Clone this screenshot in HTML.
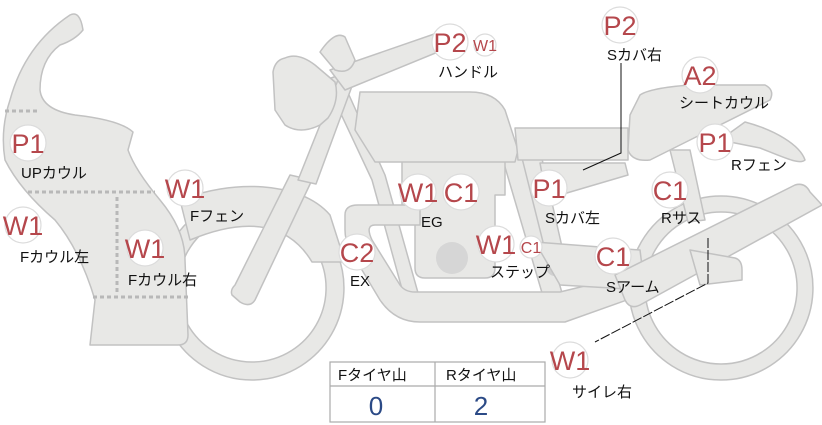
<!DOCTYPE html>
<html><head><meta charset="utf-8"><style>
html,body{margin:0;padding:0;background:#fff;width:822px;height:425px;overflow:hidden}
svg{display:block}
.s{fill:#e8e8e6;stroke:#c2c2c2;stroke-width:1.5;stroke-linejoin:round}
.b circle{fill:#fff;stroke:#dcdcdc;stroke-width:1.2}
.b text{fill:#b5474c;font-family:"Liberation Sans",sans-serif;font-size:27px;text-anchor:middle}
.l{font-family:"Liberation Sans","Noto Sans CJK JP",sans-serif;font-size:15px;fill:#111}
</style></head><body>
<svg width="822" height="425" viewBox="0 0 822 425" xmlns="http://www.w3.org/2000/svg">
<!-- wheels -->
<path class="s" fill-rule="evenodd" d="M252,196 a92,92 0 1,1 -0.1,0 Z M252,214 a74,74 0 1,0 0.1,0 Z"/>
<path class="s" fill-rule="evenodd" d="M721,196 a92,92 0 1,1 -0.1,0 Z M721,212 a76,76 0 1,0 0.1,0 Z"/>
<!-- front fender -->
<path class="s" d="M180,200 C230,180 300,180 330,215 L345,262 L312,262 C290,225 250,215 190,240 Z"/>
<!-- rear fender -->
<path class="s" d="M745,122 C775,130 800,145 805,160 C800,165 785,158 760,148 L720,140 Z"/>
<!-- frame lines -->
<path class="s" d="M325,80 L340,75 L385,175 L420,300 L405,300 L372,180 Z"/>
<path class="s" d="M500,150 L520,150 L570,320 L550,320 Z"/>
<path class="s" d="M520,150 L540,150 L565,260 L548,262 Z"/>
<path class="s" d="M670,150 L690,150 L705,220 L688,222 Z"/>
<!-- engine -->
<path class="s" d="M402,160 L505,160 L505,195 L495,195 L495,268 Q495,278 485,278 L425,278 Q415,278 415,268 L415,210 L402,210 Z"/>
<circle cx="452" cy="258" r="16" fill="#d6d6d6"/>
<circle cx="555" cy="267" r="9" fill="#d0d0d0"/>
<!-- exhaust -->
<path class="s" d="M345,215 Q345,205 358,205 L420,205 L420,225 L375,225 Q365,225 372,240 L400,285 Q405,292 415,292 L560,292 L650,270 L655,290 L565,322 L420,322 Q395,322 380,300 L350,250 Q345,240 345,230 Z"/>
<!-- step bar -->
<path class="s" d="M535,242 L640,250 L645,290 L560,285 Z"/>
<!-- swingarm -->
<path class="s" d="M615,275 L795,185 Q805,182 810,192 L822,205 L640,305 Q630,310 625,300 Z"/>
<path class="s" d="M690,250 L735,258 Q742,260 742,270 L742,280 L700,285 Z"/>
<!-- fork -->
<path class="s" d="M290,175 L312,180 L255,300 Q250,308 240,302 L232,295 Q230,290 235,285 Z"/>
<path class="s" d="M298,180 L340,75 L355,78 L316,184 Z"/>
<!-- handlebar -->
<path class="s" d="M330,70 L440,32 L452,32 L455,45 L345,90 Z"/>
<!-- headlight -->
<path class="s" d="M285,58 Q298,52 315,65 L335,82 Q340,100 328,118 L320,125 Q300,135 285,125 L275,110 L273,72 Q275,60 285,58 Z"/>
<path class="s" d="M320,52 Q335,30 345,37 L355,60 Q350,75 335,70 Z"/>
<!-- tank -->
<path class="s" d="M360,92 L470,92 Q495,92 505,110 L518,150 L515,162 L375,162 L355,130 Z"/>
<!-- seat -->
<path class="s" d="M515,128 L628,128 L628,160 L518,160 Z"/>
<path class="s" d="M540,163 L625,163 L628,175 L560,195 Q548,197 545,190 Z"/>
<!-- seat cowl -->
<path class="s" d="M640,95 Q650,88 690,85 L765,85 Q775,90 770,100 L700,135 L650,160 Q632,162 628,150 L630,115 Z"/>
<!-- fairing -->
<path class="s" d="M70,15 Q80,10 83,30 Q75,40 60,45 Q40,60 40,90 Q42,110 75,115 Q120,120 133,132 L128,150 Q135,170 160,200 Q185,230 185,260 L188,335 Q188,345 178,345 L90,345 L95,300 Q80,250 55,220 Q20,190 5,160 Q0,130 10,100 Q25,45 70,15 Z"/>
<g stroke="#b8b8b8" stroke-width="3" stroke-dasharray="4,3" fill="none">
<path d="M5,111 L40,111"/>
<path d="M28,192 L155,192"/>
<path d="M117,197 L117,293"/>
<path d="M93,297 L188,297"/>
</g>
<!-- connectors -->
<g stroke="#111" stroke-width="1" fill="none">
<path d="M621,63 L621,153 L583,170" />
<path d="M708,238 L708,283 L595,342" stroke-dasharray="10,2"/>
</g>
<!-- badges -->
<g class="b">
<circle cx="28" cy="143" r="18"/><text x="28" y="153">P1</text>
<circle cx="23" cy="225" r="18"/><text x="23" y="235">W1</text>
<circle cx="145" cy="248" r="18"/><text x="145" y="258">W1</text>
<circle cx="185" cy="188" r="18"/><text x="185" y="198">W1</text>
<circle cx="357" cy="252" r="18"/><text x="357" y="262">C2</text>
<circle cx="418" cy="192" r="18"/><text x="418" y="202">W1</text>
<circle cx="461" cy="192" r="18"/><text x="461" y="202">C1</text>
<circle cx="450" cy="42" r="18"/><text x="450" y="52">P2</text>
<circle cx="620" cy="25" r="18"/><text x="620" y="35">P2</text>
<circle cx="700" cy="75" r="18"/><text x="700" y="85">A2</text>
<circle cx="715" cy="142" r="18"/><text x="715" y="152">P1</text>
<circle cx="549" cy="188" r="18"/><text x="549" y="198">P1</text>
<circle cx="670" cy="190" r="18"/><text x="670" y="200">C1</text>
<circle cx="496" cy="244" r="18"/><text x="496" y="254">W1</text>
<circle cx="613" cy="256" r="18"/><text x="613" y="266">C1</text>
<circle cx="570" cy="360" r="18"/><text x="570" y="370">W1</text>
<circle cx="485" cy="45" r="11"/><text x="485" y="51" style="font-size:16px">W1</text>
<circle cx="531" cy="247" r="11"/><text x="531" y="253" style="font-size:16px">C1</text>
</g>
<g class="l">
<text x="21" y="178">UPカウル</text>
<text x="20" y="262">Fカウル左</text>
<text x="128" y="285">Fカウル右</text>
<text x="190" y="221">Fフェン</text>
<text x="350" y="286">EX</text>
<text x="421" y="227">EG</text>
<text x="438" y="77">ハンドル</text>
<text x="607" y="60">Sカバ右</text>
<text x="679" y="108">シートカウル</text>
<text x="731" y="170">Rフェン</text>
<text x="545" y="223">Sカバ左</text>
<text x="661" y="223">Rサス</text>
<text x="490" y="277">ステップ</text>
<text x="606" y="292">Sアーム</text>
<text x="572" y="397">サイレ右</text>
</g>
<!-- table -->
<g fill="none" stroke="#aaa" stroke-width="1.2">
<rect x="330" y="362" width="215" height="60" fill="#fff"/>
<line x1="330" y1="386" x2="545" y2="386"/>
<line x1="435" y1="362" x2="435" y2="422"/>
</g>
<g class="l"><text x="338" y="380">Fタイヤ山</text><text x="446" y="380">Rタイヤ山</text></g>
<g font-family="Liberation Sans,sans-serif" font-size="26" fill="#2b4a86" text-anchor="middle">
<text x="376" y="415">0</text><text x="481" y="415">2</text></g>
</svg>
</body></html>
